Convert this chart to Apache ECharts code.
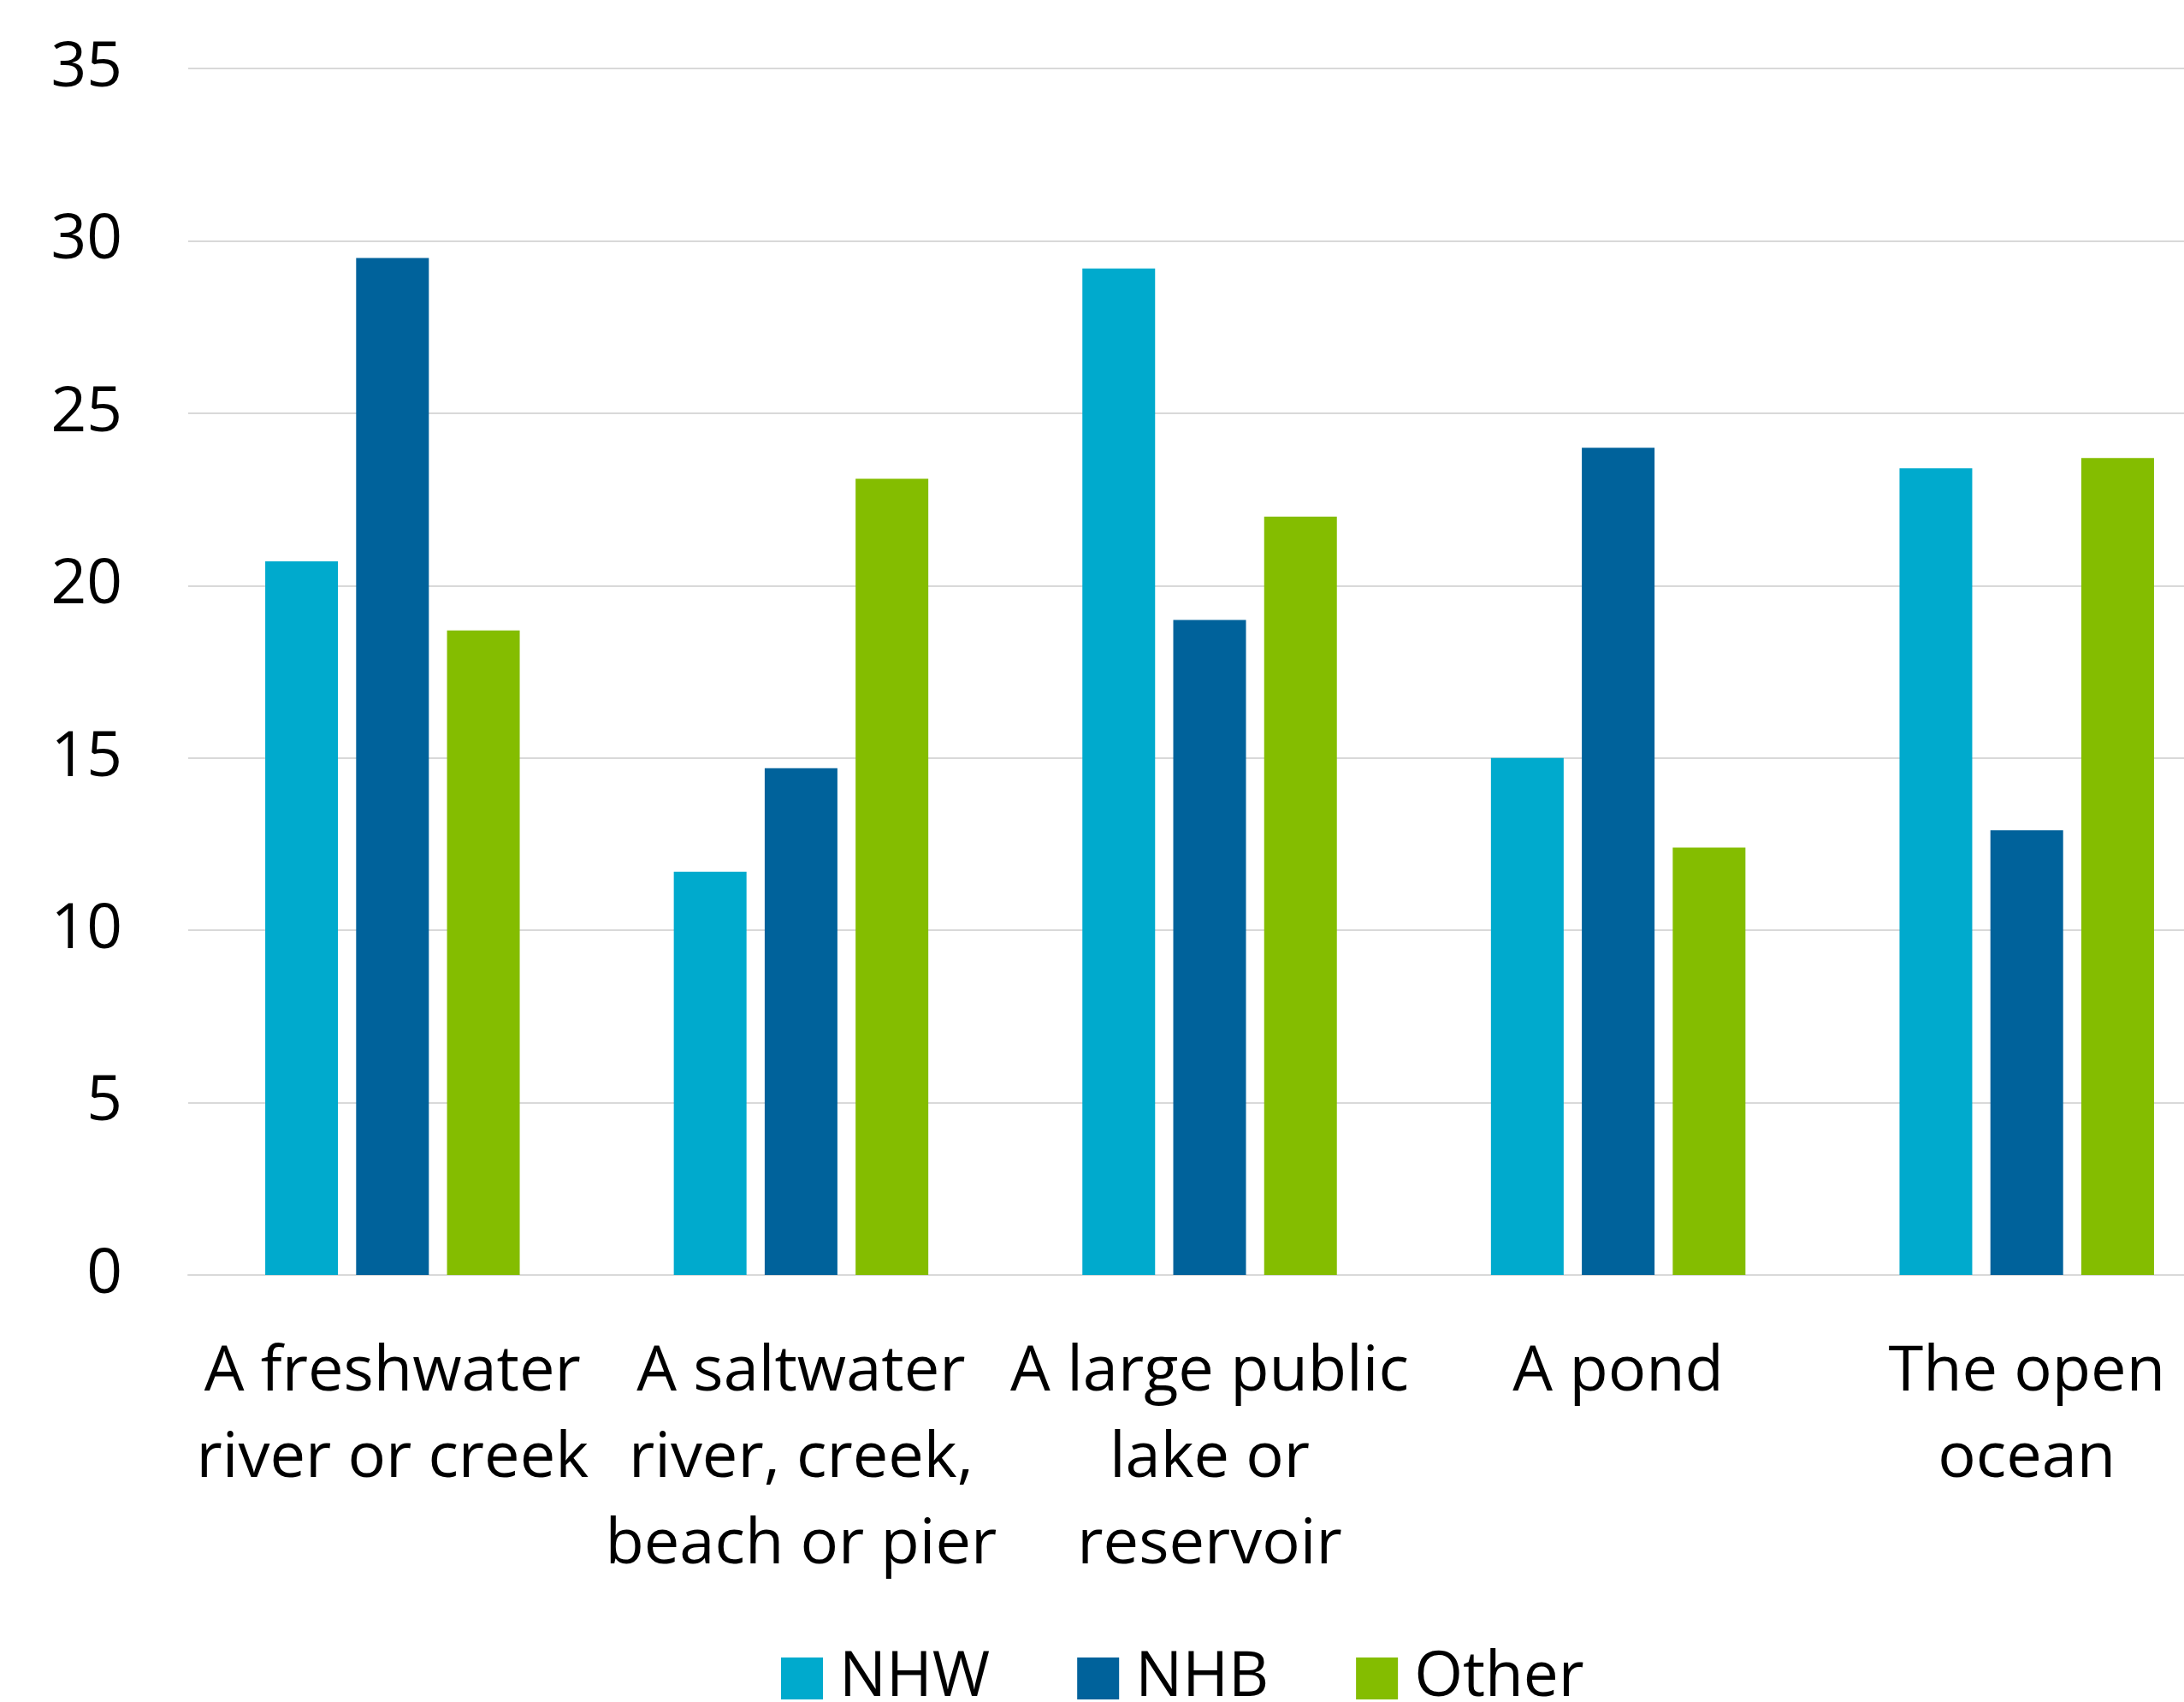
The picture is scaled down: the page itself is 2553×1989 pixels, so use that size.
<!DOCTYPE html>
<html>
<head>
<meta charset="utf-8">
<style>
  html, body { margin: 0; padding: 0; background: #fff; }
  #chart { width: 2553px; height: 1989px; }
</style>
<script src="https://cdn.jsdelivr.net/npm/echarts@6/dist/echarts.min.js"></script>
</head>
<body>
<div id="chart"></div>
<script>
// places people go near water, by group
var places = [
  'A freshwater\nriver or creek',
  'A saltwater\nriver, creek,\nbeach or pier',
  'A large public\nlake or\nreservoir',
  'A pond',
  'The open\nocean'
];
var nhw = [20.7, 11.7, 29.2, 15.0, 23.4];
var nhb = [29.5, 14.7, 19.0, 24.0, 12.9];
var other = [18.7, 23.1, 22.0, 12.4, 23.7];

var font = '"Open Sans", "Noto Sans", sans-serif';
var gridGray = '#d9d9d9';

var chart = echarts.init(document.getElementById('chart'), null, { renderer: 'canvas' });
chart.setOption({
  animation: false,
  backgroundColor: '#ffffff',
  textStyle: { fontFamily: font },
  grid: { left: 220, right: -55, top: 80, bottom: 499, outerBoundsMode: 'none' },
  legend: {
    data: ['NHW', 'NHB', 'Other'],
    left: 908,
    top: 1920,
    icon: 'rect',
    itemWidth: 49,
    itemHeight: 49,
    itemGap: 102,
    textStyle: { color: '#000', fontSize: 73, fontFamily: font, padding: [0, 0, 0, 14] }
  },
  xAxis: {
    type: 'category',
    data: places,
    axisLine: { show: true, lineStyle: { color: gridGray, width: 2 } },
    axisTick: { show: false },
    axisLabel: {
      interval: 0,
      color: '#000',
      fontSize: 74,
      lineHeight: 101,
      margin: 63,
      fontFamily: font
    }
  },
  yAxis: {
    type: 'value',
    min: 0, max: 35, interval: 5,
    axisLine: { show: false },
    axisTick: { show: false },
    axisLabel: { color: '#000', fontSize: 73, margin: 77, fontFamily: font },
    splitLine: { lineStyle: { color: gridGray, width: 2 } }
  },
  series: [
    { name: 'NHW', type: 'bar', data: nhw, barWidth: 85, barGap: '25%', itemStyle: { color: '#00aacd' } },
    { name: 'NHB', type: 'bar', data: nhb, barWidth: 85, barGap: '25%', itemStyle: { color: '#00629b' } },
    { name: 'Other', type: 'bar', data: other, barWidth: 85, barGap: '25%', itemStyle: { color: '#84bd00' } }
  ]
});
</script>
</body>
</html>
